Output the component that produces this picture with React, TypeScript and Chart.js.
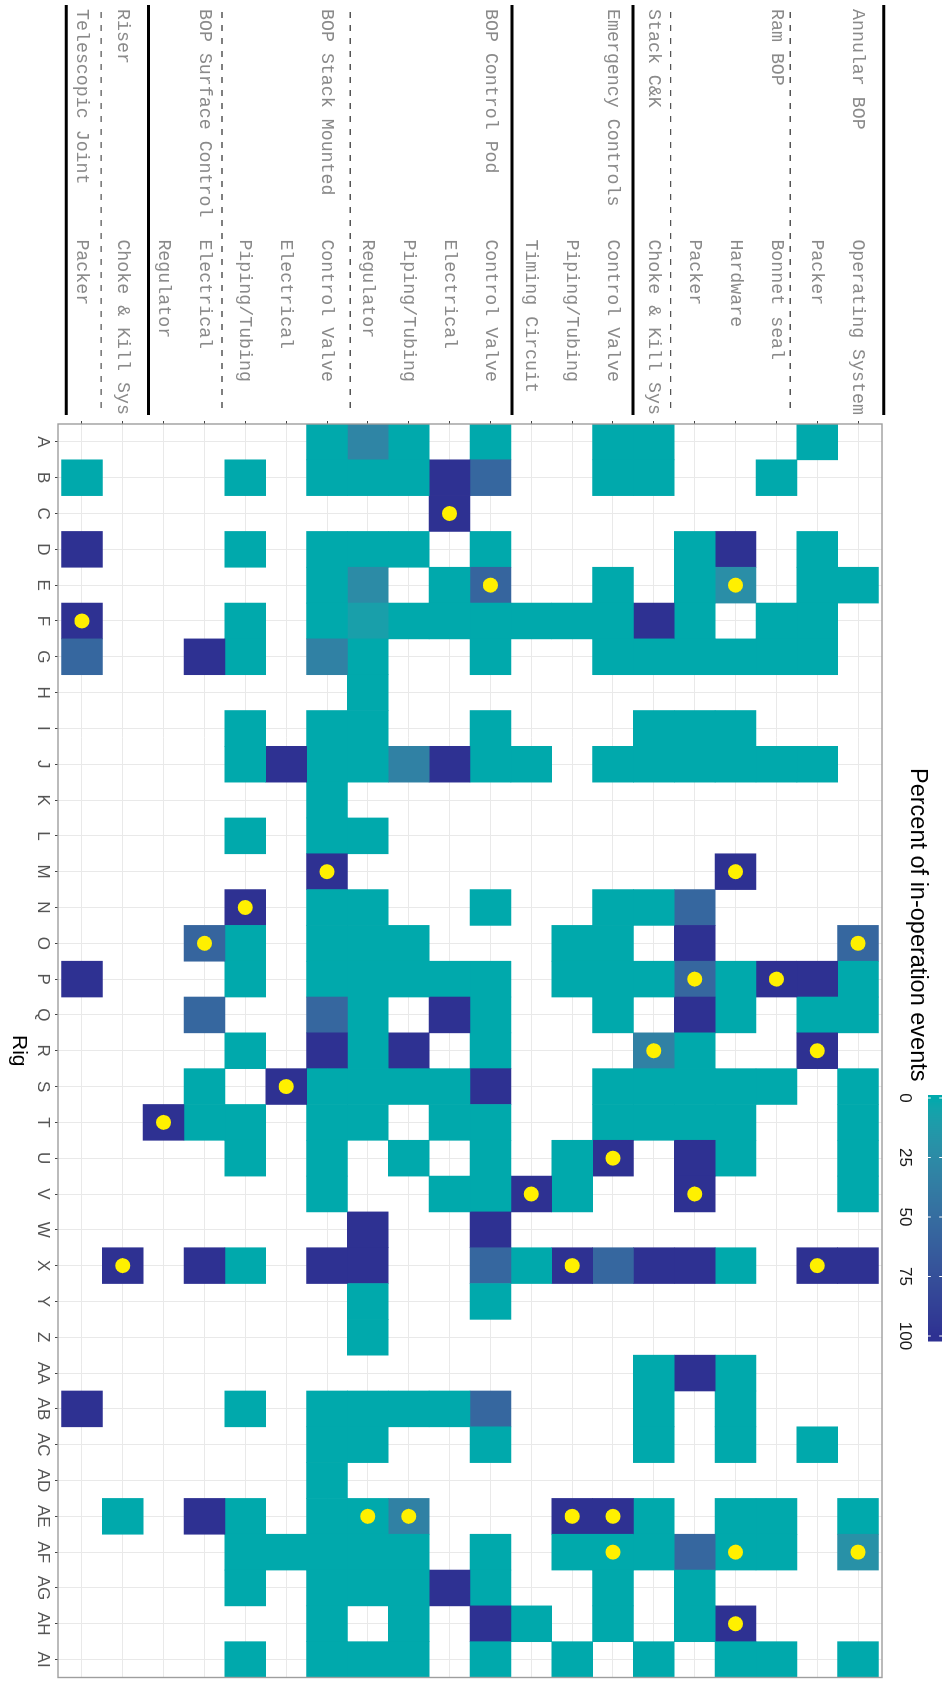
import React, { useEffect, useRef } from "react";
import { Chart, registerables } from "chart.js";

Chart.register(...registerables);

const _ = null;

const rigs = ["A","B","C","D","E","F","G","H","I","J","K","L","M","N","O","P","Q","R","S","T","U","V","W","X","Y","Z","AA","AB","AC","AD","AE","AF","AG","AH","AI"];

// component rows, index 0 = bottom row of the (unrotated) chart
const rowGroups = ["Telescopic Joint","Riser","","BOP Surface Control","","","BOP Stack Mounted","","","","BOP Control Pod","","","Emergency Controls","Stack C&K","","","Ram BOP","","Annular BOP"];
const rowSubs = ["Packer","Choke & Kill Sys","Regulator","Electrical","Piping/Tubing","Electrical","Control Valve","Regulator","Piping/Tubing","Electrical","Control Valve","Timing Circuit","Piping/Tubing","Control Valve","Choke & Kill Sys","Packer","Hardware","Bonnet seal","Packer","Operating System"];

// percent of in-operation events, per rig A..AI
const teleJointPacker = [_,0,_,100,_, 100,55,_,_,_, _,_,_,_,_, 100,_,_,_,_, _,_,_,_,_, _,_,100,_,_, _,_,_,_,_];
const riserChokeKill  = [_,_,_,_,_, _,_,_,_,_, _,_,_,_,_, _,_,_,_,_, _,_,_,100,_, _,_,_,_,_, 0,_,_,_,_];
const surfRegulator   = [_,_,_,_,_, _,_,_,_,_, _,_,_,_,_, _,_,_,_,100, _,_,_,_,_, _,_,_,_,_, _,_,_,_,_];
const surfElectrical  = [_,_,_,_,_, _,100,_,_,_, _,_,_,_,57, _,55,_,0,0, _,_,_,100,_, _,_,_,_,_, 100,_,_,_,_];
const smPiping        = [_,0,_,0,_, 0,0,_,0,0, _,0,_,100,0, 0,_,0,_,0, 0,_,_,0,_, _,_,0,_,_, 0,0,0,_,0];
const smElectrical    = [_,_,_,_,_, _,_,_,_,100, _,_,_,_,_, _,_,_,100,_, _,_,_,_,_, _,_,_,_,_, _,0,_,_,_];
const smControlValve  = [0,0,_,0,0, 0,33,_,0,0, 0,0,100,0,0, 0,55,100,0,0, 0,0,_,100,_, _,_,0,0,0, 0,0,0,0,0];
const podRegulator    = [30,0,_,0,25, 8,0,0,0,0, _,0,_,0,0, 0,0,0,0,0, _,_,100,100,0, 0,_,0,0,_, 0,0,0,_,0];
const podPiping       = [0,0,_,0,_, 0,_,_,_,33, _,_,_,_,0, 0,_,100,0,_, 0,_,_,_,_, _,_,0,_,_, 33,0,0,0,0];
const podElectrical   = [_,100,100,_,0, 0,_,_,_,100, _,_,_,_,_, 0,100,_,0,0, _,0,_,_,_, _,_,0,_,_, _,_,100,_,_];
const podControlValve = [0,55,_,0,57, 0,0,_,0,0, _,_,_,0,_, 0,0,0,100,0, 0,0,100,55,0, _,_,55,0,_, _,0,0,100,0];
const emTiming        = [_,_,_,_,_, 0,_,_,_,0, _,_,_,_,_, _,_,_,_,_, _,100,_,0,_, _,_,_,_,_, _,_,_,0,_];
const emPiping        = [_,_,_,_,_, 0,_,_,_,_, _,_,_,_,0, 0,_,_,_,_, 0,0,_,100,_, _,_,_,_,_, 100,0,_,_,0];
const emControlValve  = [0,0,_,_,0, 0,0,_,_,0, _,_,_,0,0, 0,0,_,0,0, 100,_,_,55,_, _,_,_,_,_, 100,0,0,0,_];
const stackChokeKill  = [0,0,_,_,_, 100,0,_,0,0, _,_,_,0,_, 0,_,33,0,0, _,_,_,100,_, _,0,0,0,_, 0,0,_,_,0];
const ramPacker       = [_,_,_,0,0, 0,0,_,0,0, _,_,_,55,100, 55,100,0,0,0, 100,100,_,100,_, _,100,_,_,_, _,55,0,0,_];
const ramHardware     = [_,_,_,100,22, _,0,_,0,0, _,_,100,_,_, 0,0,_,0,0, 0,_,_,0,_, _,0,0,0,_, 0,0,_,100,0];
const ramBonnetSeal   = [_,0,_,_,_, 0,0,_,_,0, _,_,_,_,_, 100,_,_,0,_, _,_,_,_,_, _,_,_,_,_, 0,0,_,_,0];
const annularPacker   = [0,_,_,0,0, 0,0,_,_,0, _,_,_,_,_, 100,0,100,_,_, _,_,_,100,_, _,_,_,0,_, _,_,_,_,_];
const annularOpSystem = [_,_,_,_,0, _,_,_,_,_, _,_,_,_,55, 0,0,_,0,0, 0,0,_,100,_, _,_,_,_,_, 0,20,_,_,0];

const rowValues = [teleJointPacker, riserChokeKill, surfRegulator, surfElectrical, smPiping, smElectrical, smControlValve, podRegulator, podPiping, podElectrical, podControlValve, emTiming, emPiping, emControlValve, stackChokeKill, ramPacker, ramHardware, ramBonnetSeal, annularPacker, annularOpSystem];

// cells marked with a yellow dot: [rig, row index]
const flaggedCells: [string, number][] = [
  ["C", 9], ["E", 10], ["E", 16], ["F", 0], ["M", 6], ["M", 16], ["N", 4], ["O", 3], ["O", 19],
  ["P", 15], ["P", 17], ["R", 14], ["R", 18], ["S", 5], ["T", 2], ["U", 13], ["V", 11], ["V", 15],
  ["X", 1], ["X", 12], ["X", 18], ["AE", 7], ["AE", 8], ["AE", 12], ["AE", 13], ["AF", 13], ["AF", 16],
  ["AF", 19], ["AH", 16],
];

const legendTitle = "Percent of in-operation events";
const legendTicks = [0, 25, 50, 75, 100];

const solidSeparators = [-0.38, 1.63, 10.53, 13.49, 19.63];
const dashedSeparators = [0.47, 3.43, 6.57, 14.41, 17.34];

// ---- colour scale (Lab interpolation, like ggplot's gradient) ----
const LOW = [0, 169, 172];
const HIGH = [46, 49, 146];
const toLin = (c: number) => { c /= 255; return c <= 0.04045 ? c / 12.92 : Math.pow((c + 0.055) / 1.055, 2.4); };
const toSrgb = (c: number) => { const v = c <= 0.0031308 ? 12.92 * c : 1.055 * Math.pow(c, 1 / 2.4) - 0.055; return Math.round(Math.max(0, Math.min(1, v)) * 255); };
const fLab = (t: number) => (t > 0.008856 ? Math.cbrt(t) : 7.787 * t + 16 / 116);
const fInv = (t: number) => (t * t * t > 0.008856 ? t * t * t : (t - 16 / 116) / 7.787);
function rgbToLab(rgb: number[]) {
  const [r, g, b] = rgb.map(toLin);
  const x = (0.4124 * r + 0.3576 * g + 0.1805 * b) / 0.95047;
  const y = 0.2126 * r + 0.7152 * g + 0.0722 * b;
  const z = (0.0193 * r + 0.1192 * g + 0.9505 * b) / 1.08883;
  const fx = fLab(x), fy = fLab(y), fz = fLab(z);
  return [116 * fy - 16, 500 * (fx - fy), 200 * (fy - fz)];
}
function labToRgb(lab: number[]) {
  const fy = (lab[0] + 16) / 116, fx = fy + lab[1] / 500, fz = fy - lab[2] / 200;
  const x = fInv(fx) * 0.95047, y = fInv(fy), z = fInv(fz) * 1.08883;
  const r = 3.2406 * x - 1.5372 * y - 0.4986 * z;
  const g = -0.9689 * x + 1.8758 * y + 0.0415 * z;
  const b = 0.0557 * x - 0.204 * y + 1.057 * z;
  return [toSrgb(r), toSrgb(g), toSrgb(b)];
}
const LAB_LOW = rgbToLab(LOW);
const LAB_HIGH = rgbToLab(HIGH);
function colorFor(v: number) {
  const t = Math.max(0, Math.min(1, v / 100));
  const lab = LAB_LOW.map((c, i) => c + (LAB_HIGH[i] - c) * t);
  const [r, g, b] = labToRgb(lab);
  return `rgb(${r},${g},${b})`;
}

const tickLabel = (i: number) => (rowGroups[i] || "").padEnd(21, " ") + rowSubs[i];

const panelPlugin = {
  id: "panelBorder",
  afterDatasetsDraw(chart: any) {
    const { ctx, chartArea: a } = chart;
    ctx.save();
    ctx.strokeStyle = "#9e9e9e";
    ctx.lineWidth = 1.4;
    ctx.strokeRect(a.left, a.top, a.right - a.left, a.bottom - a.top);
    ctx.restore();
  },
};

const separatorPlugin = {
  id: "groupSeparators",
  afterDraw(chart: any) {
    const { ctx } = chart;
    const y = chart.scales.y;
    ctx.save();
    ctx.strokeStyle = "#000";
    ctx.lineWidth = 3;
    solidSeparators.forEach((v) => {
      const p = y.getPixelForValue(v);
      ctx.beginPath(); ctx.moveTo(5, p); ctx.lineTo(415, p); ctx.stroke();
    });
    ctx.strokeStyle = "#555";
    ctx.lineWidth = 1.4;
    ctx.setLineDash([6, 7]);
    dashedSeparators.forEach((v) => {
      const p = y.getPixelForValue(v);
      ctx.beginPath(); ctx.moveTo(12, p); ctx.lineTo(415, p); ctx.stroke();
    });
    ctx.restore();
  },
};

const legendPlugin = {
  id: "colorbarLegend",
  afterDraw(chart: any) {
    const { ctx } = chart;
    ctx.save();
    ctx.fillStyle = "#000";
    ctx.font = '23.5px "Liberation Sans", Arial, sans-serif';
    ctx.textAlign = "left";
    ctx.textBaseline = "middle";
    ctx.fillText(legendTitle, 768, 28);
    const x0 = 1095, x1 = 1341, y0 = 3, y1 = 17, p0 = 1098, p100 = 1336;
    for (let x = x0; x < x1; x++) {
      const v = ((x + 0.5 - p0) / (p100 - p0)) * 100;
      ctx.fillStyle = colorFor(v);
      ctx.fillRect(x, y0, 1.5, y1 - y0);
    }
    ctx.strokeStyle = "#fff";
    ctx.lineWidth = 1;
    ctx.font = '17px "Liberation Sans", Arial, sans-serif';
    ctx.textAlign = "center";
    legendTicks.forEach((t) => {
      const px = p0 + (t / 100) * (p100 - p0);
      ctx.beginPath(); ctx.moveTo(px, y0); ctx.lineTo(px, y0 + 2.8); ctx.stroke();
      ctx.beginPath(); ctx.moveTo(px, y1 - 2.8); ctx.lineTo(px, y1); ctx.stroke();
      ctx.fillStyle = "#1a1a1a";
      ctx.fillText(String(t), px, 40);
    });
    ctx.restore();
  },
};

export default function App() {
  const ref = useRef<HTMLCanvasElement | null>(null);

  useEffect(() => {
    if (!ref.current) return;
    Chart.defaults.font.family = '"Liberation Sans", Arial, sans-serif';

    const barSets: any[] = rowValues.map((vals, j) => ({
      type: "bar",
      label: rowSubs[j],
      data: vals.map((v) => (v === null ? null : [j - 0.5, j + 0.5])),
      backgroundColor: vals.map((v) => (v === null ? "rgba(0,0,0,0)" : colorFor(v))),
      borderWidth: 0,
      grouped: false,
      barPercentage: 1,
      categoryPercentage: 1,
      order: 1,
    }));

    const dotSet: any = {
      type: "scatter",
      label: "flag",
      data: flaggedCells.map(([rig, row]) => ({ x: rig, y: row })),
      backgroundColor: "#FFF000",
      borderWidth: 0,
      pointRadius: 7.5,
      pointHoverRadius: 7.5,
      pointStyle: "circle",
      order: -1,
    };

    const chart = new Chart(ref.current, {
      type: "bar",
      data: { labels: rigs, datasets: [...barSets, dotSet] },
      options: {
        responsive: false,
        animation: false,
        devicePixelRatio: 1,
        events: [],
        layout: { padding: { left: 9, top: 63, right: 1, bottom: 6 } },
        plugins: { legend: { display: false }, tooltip: { enabled: false }, title: { display: false } },
        scales: {
          x: {
            type: "category",
            offset: true,
            grid: { offset: false, color: "#e9e9e9", lineWidth: 1, tickLength: 3, tickColor: "#444", tickWidth: 1 },
            border: { display: false },
            ticks: { autoSkip: false, maxRotation: 0, minRotation: 0, padding: 2, color: "#555555", font: { size: 17 } },
            title: { display: true, text: "Rig", color: "#000", font: { size: 21 }, padding: 0 },
            afterFit: (s: any) => { s.height = 52; },
          },
          y: {
            type: "linear",
            min: -0.585,
            max: 19.585,
            afterBuildTicks: (axis: any) => { axis.ticks = rowSubs.map((_s, i) => ({ value: i })); },
            grid: { color: "#e9e9e9", lineWidth: 1, tickLength: 3, tickColor: "#444", tickWidth: 1 },
            border: { display: false },
            ticks: {
              autoSkip: false,
              crossAlign: "far",
              padding: 5,
              color: "#8a8a8a",
              font: { family: '"Liberation Mono", "Courier New", monospace', size: 18.3 },
              callback: (value: any) => tickLabel(Number(value)),
            },
            afterFit: (s: any) => { s.width = 415; },
          },
        },
      } as any,
      plugins: [panelPlugin, separatorPlugin, legendPlugin],
    } as any);

    return () => chart.destroy();
  }, []);

  return (
    <div style={{ position: "fixed", left: 0, top: 0, width: 945, height: 1685, overflow: "hidden", background: "#fff" }}>
      <div
        style={{
          position: "absolute",
          left: 0,
          top: 0,
          width: 1685,
          height: 945,
          transformOrigin: "0 0",
          transform: "translate(945px, 0px) rotate(90deg)",
        }}
      >
        <canvas ref={ref} width={1685} height={945} style={{ display: "block", width: 1685, height: 945 }} />
      </div>
    </div>
  );
}
